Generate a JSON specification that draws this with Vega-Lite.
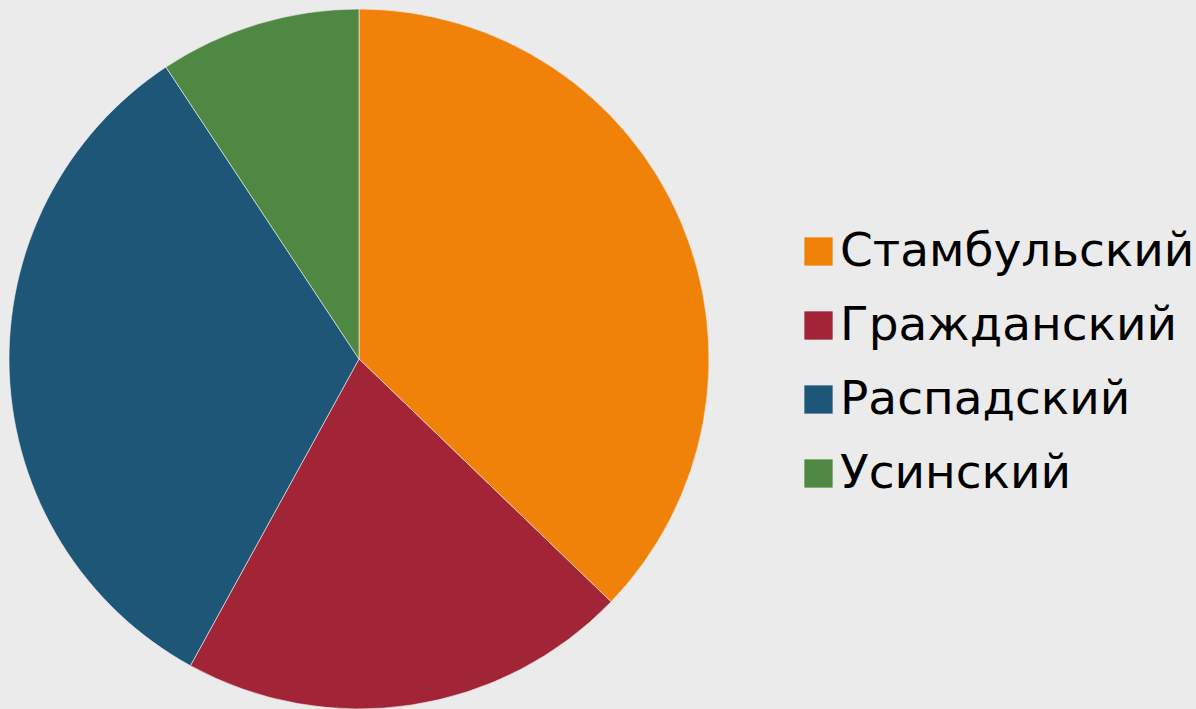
{
  "$schema": "https://vega.github.io/schema/vega-lite/v6.json",
  "width": 718,
  "height": 700,
  "autosize": {"type": "none"},
  "padding": {"top": 9, "left": 0, "right": 478, "bottom": 0},
  "background": "#ebebeb",
  "config": {"view": {"stroke": null}, "font": "DejaVu Sans"},
  "data": {
    "values": [
      {"region": "Стамбульский", "value": 37.2, "ord": 1},
      {"region": "Гражданский", "value": 20.8, "ord": 2},
      {"region": "Распадский", "value": 32.7, "ord": 3},
      {"region": "Усинский", "value": 9.3, "ord": 4}
    ]
  },
  "mark": {"type": "arc", "outerRadius": 350, "stroke": "#f4f4f4", "strokeWidth": 0.6},
  "encoding": {
    "theta": {"field": "value", "type": "quantitative", "stack": true},
    "order": {"field": "ord", "type": "quantitative"},
    "color": {
      "field": "region",
      "type": "nominal",
      "sort": ["Стамбульский", "Гражданский", "Распадский", "Усинский"],
      "scale": {
        "domain": ["Стамбульский", "Гражданский", "Распадский", "Усинский"],
        "range": ["#f0820a", "#a12537", "#1e5677", "#4e8843"]
      },
      "legend": {
        "title": null,
        "orient": "none",
        "legendX": 795,
        "legendY": 219,
        "symbolType": "square",
        "symbolSize": 800,
        "symbolStrokeWidth": 0,
        "labelFontSize": 47,
        "labelColor": "#000000",
        "labelOffset": -2,
        "labelLimit": 500,
        "rowPadding": 26
      }
    }
  }
}
